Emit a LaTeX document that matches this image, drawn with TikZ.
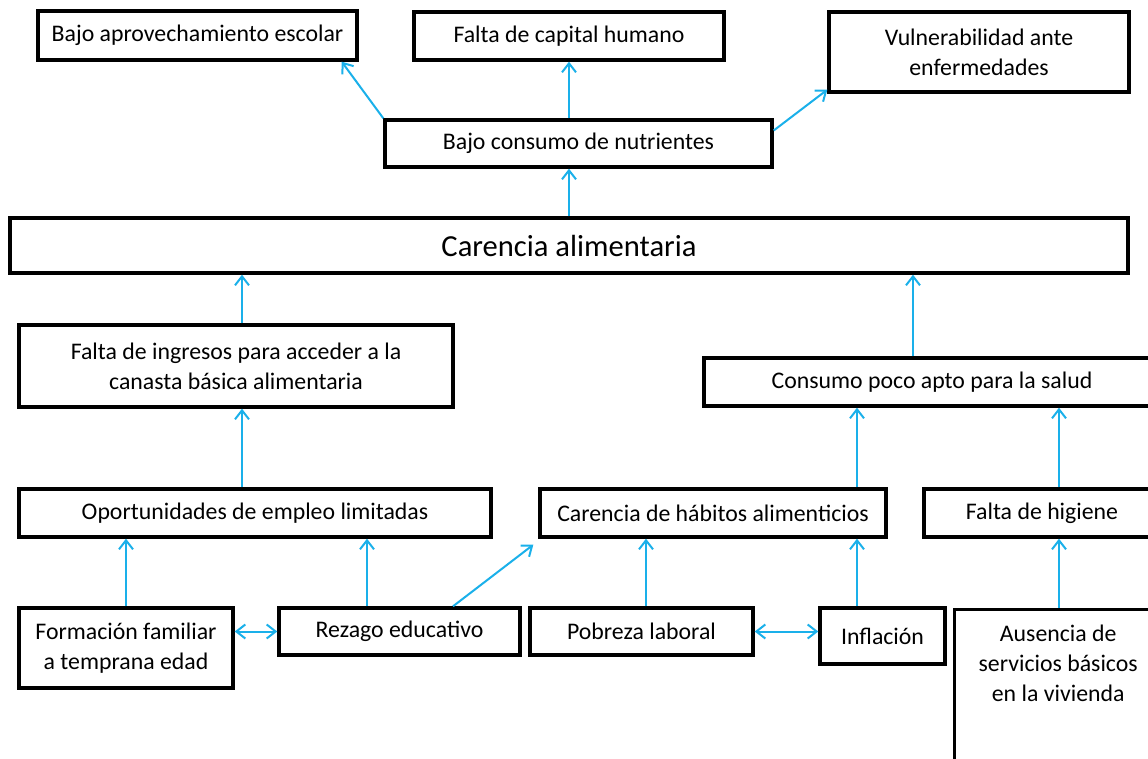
\documentclass[tikz,border=0pt]{standalone}
\usepackage{fontspec}
\setmainfont{Carlito}
\usepackage{tikz}
\usetikzlibrary{positioning, arrows.meta, shapes.geometric}
\definecolor{celeste}{HTML}{1AB0EA}

\begin{document}
\begin{tikzpicture}[x=1pt, y=-1pt, >={Straight Barb[length=9pt, width=14pt]}]
    % Estilos
    \tikzstyle{caja} = [draw, rectangle, line width=3.4pt, inner sep=0pt, align=center, font=\fontsize{23.8}{30}\selectfont]
    \tikzstyle{flecha} = [->, draw=celeste, line width=2pt]

    \useasboundingbox (0,0) rectangle (1148,759);
    \fill [white] (0,0) rectangle (1148,759);
    \clip (0,0) rectangle (1148,759);

    % Nodos
    \node [caja, minimum width=319pt, minimum height=49pt] (aprov) at (197.5,35.5) {Bajo aprovechamiento escolar};
    \node [caja, minimum width=310pt, minimum height=48pt] (capital) at (569,36) {Falta de capital humano};
    \node [caja, minimum width=300pt, minimum height=80pt] (vuln) at (979,52) {Vulnerabilidad ante\\enfermedades};
    \node [caja, minimum width=387pt, minimum height=47pt] (nutr) at (578.5,143.5) {Bajo consumo de nutrientes};
    \node [caja, minimum width=1118pt, minimum height=55pt, font=\fontsize{30.6}{37}\selectfont] (carencia) at (569,245.5) {Carencia alimentaria};
    \node [caja, minimum width=434pt, minimum height=82pt] (ingresos) at (236,366) {Falta de ingresos para acceder a la\\canasta básica alimentaria};
    \node [caja, minimum width=456pt, minimum height=48pt] (consumo) at (932,382) {Consumo poco apto para la salud};
    \node [caja, minimum width=472pt, minimum height=48pt] (oport) at (255,513) {Oportunidades de empleo limitadas};
    \node [caja, minimum width=346pt, minimum height=48pt] (habitos) at (713,513) {Carencia de hábitos alimenticios};
    \node [caja, minimum width=236pt, minimum height=48pt] (higiene) at (1042,513) {Falta de higiene};
    \node [caja, minimum width=214pt, minimum height=80pt] (formacion) at (126,648) {Formación familiar\\a temprana edad};
    \node [caja, minimum width=241pt, minimum height=47pt] (rezago) at (399.5,631.5) {Rezago educativo};
    \node [caja, minimum width=223pt, minimum height=47pt] (pobreza) at (641.5,631.5) {Pobreza laboral};
    \node [caja, minimum width=125pt, minimum height=56pt] (inflacion) at (882.5,636) {Inflación};
    \node [caja, anchor=north west, minimum width=207pt, inner ysep=15pt, text depth=130pt] (ausencia) at (953,608) {Ausencia de\\servicios básicos\\en la vivienda};

    % Ejes de las flechas
    \coordinate (ejeA) at (126,0);
    \coordinate (ejeB) at (242,0);
    \coordinate (ejeC) at (367,0);
    \coordinate (ejeD) at (569,0);
    \coordinate (ejeE) at (646,0);
    \coordinate (ejeF) at (857,0);
    \coordinate (ejeG) at (913,0);
    \coordinate (ejeH) at (1059,0);

    % Conexiones
    \draw [flecha] (nutr.north west) -- ([xshift=-17pt]aprov.south east);
    \draw [flecha] (nutr.north -| ejeD) -- (capital.south -| ejeD);
    \draw [flecha] ([yshift=13pt]nutr.east) -- ([yshift=4pt]vuln.south west);
    \draw [flecha] (carencia.north -| ejeD) -- (nutr.south -| ejeD);
    \draw [flecha] (ingresos.north -| ejeB) -- (carencia.south -| ejeB);
    \draw [flecha] (consumo.north -| ejeG) -- (carencia.south -| ejeG);
    \draw [flecha] (oport.north -| ejeB) -- (ingresos.south -| ejeB);
    \draw [flecha] (habitos.north -| ejeF) -- (consumo.south -| ejeF);
    \draw [flecha] (higiene.north -| ejeH) -- (consumo.south -| ejeH);
    \draw [flecha] (formacion.north -| ejeA) -- (oport.south -| ejeA);
    \draw [flecha] (rezago.north -| ejeC) -- (oport.south -| ejeC);
    \draw [flecha] ([xshift=53.5pt]rezago.north) -- ([shift={(-5pt,-6pt)}]habitos.south west);
    \draw [flecha] (pobreza.north -| ejeE) -- (habitos.south -| ejeE);
    \draw [flecha] (inflacion.north -| ejeF) -- (habitos.south -| ejeF);
    \draw [flecha] (ausencia.north -| ejeH) -- (higiene.south -| ejeH);
    \draw [flecha, <->] (rezago.west -| formacion.east) -- (rezago.west);
    \draw [flecha, <->] (pobreza.east) -- (pobreza.east -| inflacion.west);
\end{tikzpicture}
\end{document}
